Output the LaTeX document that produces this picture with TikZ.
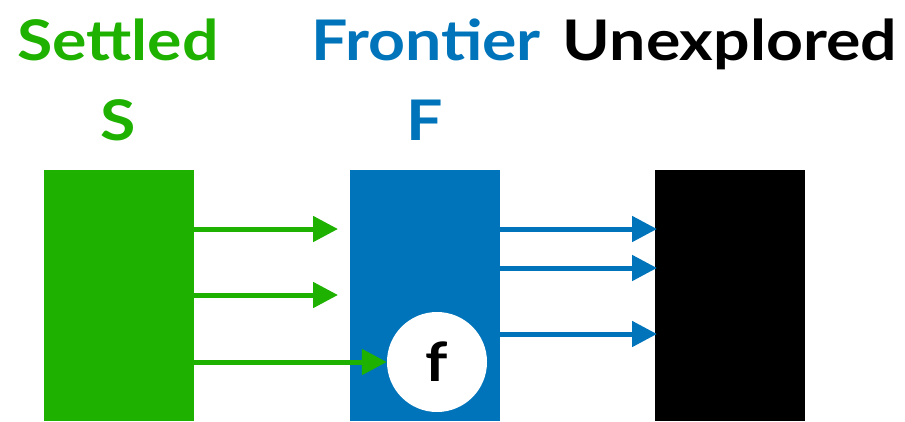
\documentclass[tikz,border=0pt]{standalone}
\usepackage{fontspec}
\setmainfont{Lato}
\usetikzlibrary{positioning,calc,arrows.meta}

\definecolor{settledgreen}{RGB}{31,177,0}
\definecolor{frontierblue}{RGB}{0,116,186}
\newcommand{\widetxt}[1]{\scalebox{1.15}[1]{#1}}

\begin{document}
\begin{tikzpicture}[x=1pt,y=-1pt,>={Triangle[length=25pt,width=25pt]},
	setbox/.style={minimum width=150pt,minimum height=251pt,inner sep=0pt,anchor=north west},
	title/.style={font=\fontsize{56}{60}\selectfont\bfseries,anchor=base,inner sep=0pt},
	garrow/.style={->,line width=5pt,draw=settledgreen},
	barrow/.style={->,line width=5pt,draw=frontierblue}]
	\useasboundingbox (0,0) rectangle (905,421);
	
	% the three sets
	\node[setbox,fill=settledgreen] (S) at (44,170) {};
	\node[setbox,fill=frontierblue] (F) at (350,170) {};
	\node[setbox,fill=black] (U) at (655,170) {};
	
	% titles
	\node[title,text=settledgreen] (settledlbl) at (118,60) {\widetxt{Settled}};
	\node[title,text=frontierblue] (frontierlbl) at (426,60) {\widetxt{Frontier}};
	\node[title] (unexplbl) at (730,60) {\widetxt{Unexplored}};
	\node[title,text=settledgreen] (slbl) at (118,140) {\widetxt{S}};
	\node[title,text=frontierblue] (flbl) at (425,140) {\widetxt{F}};
	
	% chosen frontier vertex
	\node[circle,fill=white,minimum size=100pt,inner sep=0pt,
	font=\fontsize{54}{58}\selectfont\bfseries] (f) at (437,362) {\widetxt{f}};
	
	% arrow ends in front of F
	\coordinate (g1) at (338,229);
	\coordinate (g2) at (338,295);
	
	% settled -> frontier
	\draw[garrow] (S.east |- g1) -- (g1);
	\draw[garrow] (S.east |- g2) -- (g2);
	\draw[garrow] (S.east |- f) -- (f.west);
	
	% frontier -> unexplored
	\foreach \y in {229,268,334}{
		\coordinate (b) at (0,\y);
		\draw[barrow,shorten >=-2pt] (F.east |- b) -- (U.west |- b);
	}
\end{tikzpicture}
\end{document}
